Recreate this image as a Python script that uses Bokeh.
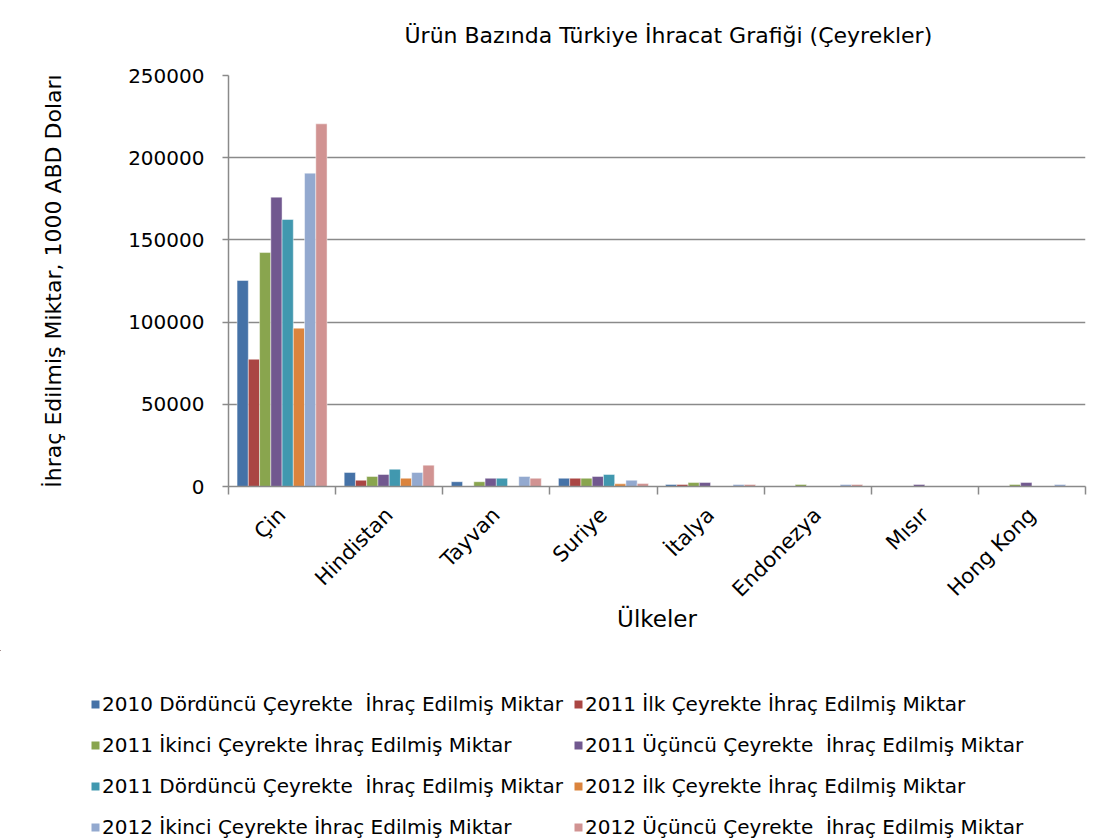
import math
from bokeh.plotting import figure
from bokeh.models import (Range1d, FixedTicker, Legend, LegendItem, ColumnDataSource,
                          NumeralTickFormatter, Label)
from bokeh.transform import dodge
from bokeh.embed import file_html
from bokeh.resources import INLINE

countries = ["Çin", "Hindistan", "Tayvan", "Suriye", "İtalya", "Endonezya", "Mısır", "Hong Kong"]

series_names = [
    "2010 Dördüncü Çeyrekte  İhraç Edilmiş Miktar",
    "2011 İlk Çeyrekte İhraç Edilmiş Miktar",
    "2011 İkinci Çeyrekte İhraç Edilmiş Miktar",
    "2011 Üçüncü Çeyrekte  İhraç Edilmiş Miktar",
    "2011 Dördüncü Çeyrekte  İhraç Edilmiş Miktar",
    "2012 İlk Çeyrekte İhraç Edilmiş Miktar",
    "2012 İkinci Çeyrekte İhraç Edilmiş Miktar",
    "2012 Üçüncü Çeyrekte  İhraç Edilmiş Miktar",
]

q4_2010 = [125300, 8500, 2900, 5000, 1200, 300, 200, 300]
q1_2011 = [77400, 3800, 300, 5000, 1200, 300, 200, 300]
q2_2011 = [142300, 6100, 2900, 5000, 2400, 1200, 300, 1200]
q3_2011 = [176000, 7300, 5000, 6100, 2400, 300, 1200, 2400]
q4_2011 = [162400, 10500, 5000, 7300, 300, 300, 200, 300]
q1_2012 = [96300, 5000, 300, 1600, 300, 300, 200, 300]
q2_2012 = [190600, 8500, 6100, 3800, 1200, 1200, 300, 1200]
q3_2012 = [220600, 13000, 5000, 1800, 1200, 1200, 200, 300]

series_values = [q4_2010, q1_2011, q2_2011, q3_2011, q4_2011, q1_2012, q2_2012, q3_2012]

colors = ["#4572A7", "#AA4643", "#89A54E", "#71588F", "#4198AF", "#DB843D", "#93A9CF", "#D19392"]

y_ticks = [0, 50000, 100000, 150000, 200000, 250000]

title_text = "Ürün Bazında Türkiye İhracat Grafiği (Çeyrekler)"

FONT = "DejaVu Sans"
GRAY = "#8a8a8a"

W = 1102
H0, H1, H2 = 60, 590, 189   # title strip, chart, legend strip

# ---- title strip (separate root; its frame fills it) ----
tf = figure(width=W, height=H0, output_backend="svg", toolbar_location=None,
            title_location=None, x_axis_type=None, y_axis_type=None,
            x_range=Range1d(0, 1), y_range=Range1d(0, 1),
            min_border=0, min_border_left=0, min_border_right=0,
            min_border_top=0, min_border_bottom=0)
tf.grid.visible = False
tf.outline_line_color = None
tf.border_fill_color = "white"
tf.background_fill_color = "white"
tf.add_layout(Label(x=404, y=H0 - 35, x_units="screen", y_units="screen", text=title_text,
                    text_font=FONT, text_font_size="22px", text_color="#000000",
                    text_align="left", text_baseline="middle"))

# ---- chart ----
p = figure(width=W, height=H1, output_backend="svg", toolbar_location=None,
           title_location=None,
           x_range=Range1d(0, len(countries)), y_range=Range1d(0, 250000),
           min_border_left=228, min_border_right=W - 1085, min_border_top=75 - H0,
           min_border_bottom=H0 + H1 - 486)
p.outline_line_color = None
p.background_fill_color = "white"
p.border_fill_color = "white"

data = {"xc": [i + 0.5 for i in range(len(countries))]}
for j, vals in enumerate(series_values):
    data[f"s{j}"] = vals
src = ColumnDataSource(data)

bw = 0.105
renderers = []
for j in range(len(series_values)):
    off = (j - (len(series_values) - 1) / 2) * bw
    r = p.vbar(x=dodge("xc", off, range=p.x_range), top=f"s{j}", bottom=0, width=bw,
               source=src, fill_color=colors[j], line_color="white", line_alpha=0.45,
               line_width=1)
    renderers.append(r)

# y axis
p.yaxis.ticker = FixedTicker(ticks=y_ticks)
p.yaxis.formatter = NumeralTickFormatter(format="0")
p.yaxis.axis_line_color = GRAY
p.yaxis.axis_line_width = 1.5
p.yaxis.major_tick_line_color = GRAY
p.yaxis.major_tick_line_width = 1.5
p.yaxis.major_tick_out = 6
p.yaxis.major_tick_in = 0
p.yaxis.minor_tick_line_color = None
p.yaxis.major_label_standoff = 18
p.yaxis.major_label_text_font = FONT
p.yaxis.major_label_text_font_size = "20px"
p.yaxis.major_label_text_color = "#000000"
p.yaxis.axis_label = "İhraç Edilmiş Miktar, 1000 ABD Doları"
p.yaxis.axis_label_text_font = FONT
p.yaxis.axis_label_text_font_size = "22px"
p.yaxis.axis_label_text_font_style = "normal"
p.yaxis.axis_label_text_color = "#000000"
p.yaxis.axis_label_standoff = 59

# x axis
p.xaxis.ticker = FixedTicker(ticks=[i + 0.5 for i in range(len(countries))],
                             minor_ticks=list(range(len(countries) + 1)))
p.xaxis.major_label_overrides = {i + 0.5: c for i, c in enumerate(countries)}
p.xaxis.major_label_orientation = math.pi / 4
p.xaxis.major_tick_line_color = None
p.xaxis.major_tick_out = 0
p.xaxis.major_tick_in = 0
p.xaxis.minor_tick_line_color = GRAY
p.xaxis.minor_tick_line_width = 1.5
p.xaxis.minor_tick_out = 8
p.xaxis.minor_tick_in = 0
p.xaxis.axis_line_color = GRAY
p.xaxis.axis_line_width = 1.5
p.xaxis.major_label_standoff = 17
p.xaxis.major_label_text_font = FONT
p.xaxis.major_label_text_font_size = "21px"
p.xaxis.major_label_text_color = "#000000"
p.xaxis.axis_label = "Ülkeler"
p.xaxis.axis_label_text_font = FONT
p.xaxis.axis_label_text_font_size = "23px"
p.xaxis.axis_label_text_font_style = "normal"
p.xaxis.axis_label_text_color = "#000000"
p.xaxis.axis_label_standoff = -7

p.xgrid.grid_line_color = None
p.ygrid.ticker = FixedTicker(ticks=y_ticks)
p.ygrid.grid_line_color = GRAY
p.ygrid.grid_line_width = 1.5

# ---- legend strip (separate root, its frame fills it);
# its bars lie far outside its ranges, only their legend swatches show ----
lf = figure(width=W, height=H2, output_backend="svg", toolbar_location=None,
            title_location=None, x_axis_type=None, y_axis_type=None,
            x_range=Range1d(50, 51), y_range=Range1d(-2, -1),
            min_border=0, min_border_left=0, min_border_right=0,
            min_border_top=0, min_border_bottom=0)
lf.grid.visible = False
lf.outline_line_color = None
lf.border_fill_color = "white"
lf.background_fill_color = "white"

leg_renderers = []
for j in range(len(series_values)):
    off = (j - (len(series_values) - 1) / 2) * bw
    leg_renderers.append(lf.vbar(x=dodge("xc", off, range=lf.x_range), top=f"s{j}",
                                 bottom=0, width=bw, source=src, fill_color=colors[j],
                                 line_color=None))

def make_legend(idx, vx):
    items = [LegendItem(label=series_names[k], renderers=[leg_renderers[k]]) for k in idx]
    return Legend(items=items, location=(vx, 0), orientation="vertical",
                  padding=0, margin=0, spacing=17, label_height=20, glyph_height=10,
                  glyph_width=10, label_standoff=2, label_text_font=FONT,
                  label_text_font_size="20px", label_text_color="#000000",
                  border_line_color=None, background_fill_alpha=0)

lf.add_layout(make_legend([0, 2, 4, 6], 90), "center")
lf.add_layout(make_legend([1, 3, 5, 7], 573), "center")

open("out.html", "w").write(file_html([tf, p, lf], INLINE))
